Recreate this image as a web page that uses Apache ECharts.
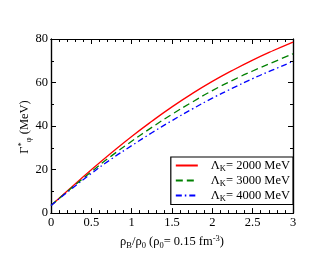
<!DOCTYPE html>
<html><head><meta charset="utf-8">
<script src="https://cdn.jsdelivr.net/npm/echarts@6/dist/echarts.min.js"></script>
<style>html,body{margin:0;padding:0;background:#fff}#c{width:330px;height:255px}</style>
</head><body><div id="c"></div>
<script>
const rho = [0, 0.25, 0.5, 0.75, 1.0, 1.25, 1.5, 1.75, 2.0, 2.25, 2.5, 2.75, 3.0];
const gamma2000 = [3.5, 11.8, 19.9, 27.7, 35.2, 42.2, 48.8, 54.9, 60.5, 65.6, 70.3, 74.6, 78.6];
const gamma3000 = [3.5, 11.4, 19.0, 26.3, 33.0, 39.4, 45.4, 51.0, 56.3, 61.0, 65.3, 69.3, 73.2];
const gamma4000 = [3.5, 11.0, 18.2, 24.9, 31.0, 36.9, 42.5, 47.8, 52.8, 57.4, 61.8, 65.8, 69.7];
const seriesNames = ['2000', '3000', '4000'];
const xTicks = [0, 0.5, 1, 1.5, 2, 2.5, 3];
const yTicks = [0, 20, 40, 60, 80];

const font = 'Liberation Serif';
const pair = (ys) => rho.map((r, i) => [r, ys[i]]);
const chart = echarts.init(document.getElementById('c'), null, {renderer: 'canvas'});

const richLabel = {
  a: {fontFamily: font, fontSize: 12.5, fill: '#000', color: '#000', lineHeight: 16, verticalAlign: 'middle'},
  s: {fontFamily: font, fontSize: 8.5, fill: '#000', color: '#000', lineHeight: 9, verticalAlign: 'bottom'},
  p: {fontFamily: font, fontSize: 8.5, fill: '#000', color: '#000', lineHeight: 9, verticalAlign: 'top'}
};
function mkAxis(kind, pos, interval, tickLen, labels, extra) {
  const isX = kind === 'x';
  return Object.assign({
    type: 'value',
    min: 0, max: isX ? 3 : 80, interval: interval, position: pos,
    axisLine: {show: true, onZero: false, lineStyle: {color: '#000', width: 1.2}},
    axisTick: {show: true, inside: true, length: tickLen, lineStyle: {color: '#000', width: 1}},
    splitLine: {show: false},
    axisLabel: labels ? {fontFamily: font, fontSize: 12.5, color: '#000', margin: 3,
      formatter: v => (isX ? xTicks : yTicks).some(t => Math.abs(t - v) < 1e-6) ? String(+v.toFixed(1)) : ''} : {show: false}
  }, extra || {});
}
chart.setOption({
  animation: false,
  backgroundColor: '#fff',
  grid: {left: 51, right: 37, top: 39, bottom: 40},
  xAxis: [
    mkAxis('x', 'bottom', 0.5, 5, true, {
      name: '{a|ρ}{s|B}{a|/ρ}{s|0}{a| (ρ}{s|0}{a|= 0.15 fm}{p|-3}{a|)}',
      nameLocation: 'middle', nameGap: 20, nameTextStyle: {rich: richLabel}
    }),
    mkAxis('x', 'bottom', 0.1, 3, false),
    mkAxis('x', 'top', 0.5, 5, false),
    mkAxis('x', 'top', 0.1, 3, false)
  ],
  yAxis: [
    mkAxis('y', 'left', 20, 5, true),
    mkAxis('y', 'left', 10, 3, false),
    mkAxis('y', 'right', 20, 5, false),
    mkAxis('y', 'right', 10, 3, false)
  ],
  graphic: [{
    type: 'text', x: 25, y: 127, rotation: Math.PI / 2,
    style: {
      text: '{a|Γ}{p|*}{s|φ}{a| (MeV)}',
      rich: richLabel, align: 'center', verticalAlign: 'middle'
    }
  }],
  legend: {
    orient: 'vertical', right: 37, top: 157,
    backgroundColor: '#fff', borderColor: '#000', borderWidth: 1.2, borderRadius: 0,
    padding: [2, 3, 1, 4], itemGap: 0.5, itemWidth: 22, itemHeight: 16,
    itemStyle: {opacity: 0},
    data: seriesNames.map(n => 'L' + n),
    formatter: name => '{a|Λ}{s|K}{a|= ' + name.slice(1) + ' MeV}',
    textStyle: {rich: richLabel, padding: [0, 0, 0, 8]}
  },
  series: [
    {name: 'L2000', type: 'line', data: pair(gamma2000), smooth: true, symbol: 'none',
      lineStyle: {color: '#ff0000', width: 1.3, type: 'solid'}, itemStyle: {color: '#ff0000'}},
    {name: 'L3000', type: 'line', data: pair(gamma3000), smooth: true, symbol: 'none',
      lineStyle: {color: '#008000', width: 1.3, type: [7, 4]}, itemStyle: {color: '#008000'}},
    {name: 'L4000', type: 'line', data: pair(gamma4000), smooth: true, symbol: 'none',
      lineStyle: {color: '#0000ff', width: 1.3, type: [6, 3, 1.5, 3]}, itemStyle: {color: '#0000ff'}}
  ]
});
</script></body></html>
